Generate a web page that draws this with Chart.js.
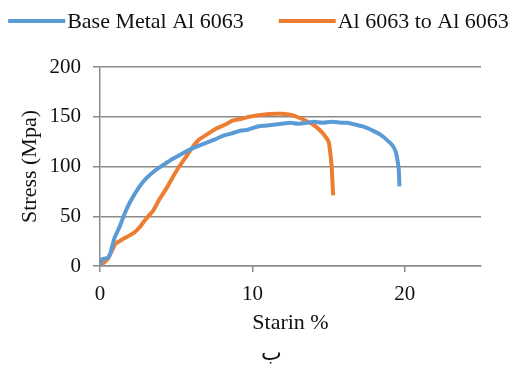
<!DOCTYPE html>
<html>
<head>
<meta charset="utf-8">
<script src="https://cdn.jsdelivr.net/npm/chart.js@4/dist/chart.umd.min.js"></script>
<style>
  html, body { margin: 0; padding: 0; background: #fff; }
  #wrap { width: 517px; height: 369px; }
</style>
</head>
<body>
<div id="wrap"><canvas id="stressChart"></canvas></div>
<script>
// Series names
const seriesNames = ['Base Metal Al 6063', 'Al 6063 to Al 6063'];

// Base metal curve (strain %, stress MPa)
const baseStrain = [0, 0.15, 0.5, 0.7, 0.95, 1.3, 1.6, 2.0, 2.6, 3.1, 3.7, 4.3, 4.8, 5.4, 5.9, 6.5, 7.0, 7.5, 8.1, 8.6, 9.2, 9.7, 10.3, 10.8, 11.4, 11.9, 12.5, 13.0, 13.6, 14.0, 14.6, 15.2, 15.8, 16.2, 16.8, 17.3, 17.9, 18.4, 18.8, 19.2, 19.4, 19.5, 19.6, 19.65];
const baseStress = [0, 7, 8, 14, 28, 40, 52, 65, 80, 89, 97, 103, 108, 113, 117, 121, 124, 127, 131, 133, 136, 137, 140, 141, 142, 143, 144, 143, 144, 145, 144, 145, 144, 144, 142, 140, 136, 132, 127, 121, 115, 108, 98, 80];

// Welded joint curve (strain %, stress MPa)
const weldStrain = [0, 0.5, 0.8, 1.0, 1.5, 2.2, 2.6, 3.0, 3.5, 3.9, 4.4, 4.8, 5.2, 5.7, 6.1, 6.5, 7.1, 7.6, 8.2, 8.7, 9.3, 9.8, 10.4, 10.9, 11.6, 12.0, 12.5, 12.9, 13.5, 14.0, 14.4, 14.7, 15.0, 15.1, 15.2, 15.25, 15.3];
const weldStress = [0, 7, 16, 22, 27, 33, 39, 47, 56, 67, 79, 90, 100, 111, 120, 127, 133, 138, 142, 146, 148, 150, 151.5, 152.5, 153, 153, 152, 150, 146, 142, 137, 132, 125, 115, 100, 85, 71];

// Axis ticks
const xTickValues = [0, 10, 20];
const yTickValues = [0, 50, 100, 150, 200];

const captionText = 'ب';

const serif = "'Liberation Serif', 'Times New Roman', serif";
const gridGray = '#8a8a8a';
const textColor = '#111';

function toPoints(xs, ys) {
    return xs.map((x, i) => ({ x: x, y: ys[i] }));
}

// Legend in the old office style: long line sample right next to the text
const lineLegend = {
    id: 'lineLegend',
    afterDraw(chart) {
        const c = chart.ctx;
        const sample = 57, gap = 2, between = 35, y = 21;
        c.save();
        c.font = '22px ' + serif;
        c.textBaseline = 'middle';
        const items = chart.data.datasets.map(ds => ({
            label: ds.label, color: ds.borderColor, w: c.measureText(ds.label).width
        }));
        let total = items.reduce((s, it) => s + sample + gap + it.w, 0) + between * (items.length - 1);
        let x = (chart.width - total) / 2;
        items.forEach(it => {
            c.strokeStyle = it.color;
            c.lineWidth = 4;
            c.lineCap = 'butt';
            c.beginPath();
            c.moveTo(x, y);
            c.lineTo(x + sample, y);
            c.stroke();
            c.fillStyle = textColor;
            c.fillText(it.label, x + sample + gap, y + 1);
            x += sample + gap + it.w + between;
        });

        // caption under the chart
        const area = chart.chartArea;
        c.font = "22px 'DejaVu Sans', sans-serif";
        c.textAlign = 'center';
        c.textBaseline = 'alphabetic';
        c.fillText(captionText, area.left + area.width * 0.45, 360);
        c.restore();
    }
};

const ctx = document.getElementById('stressChart');

new Chart(ctx, {
    type: 'scatter',
    data: {
        datasets: [{
            label: seriesNames[0],
            data: toPoints(baseStrain, baseStress),
            borderColor: '#5b9bd5',
            backgroundColor: '#5b9bd5',
            borderWidth: 4,
            showLine: true,
            pointRadius: 0,
            tension: 0.2
        }, {
            label: seriesNames[1],
            data: toPoints(weldStrain, weldStress),
            borderColor: '#ed7d31',
            backgroundColor: '#ed7d31',
            borderWidth: 4,
            showLine: true,
            pointRadius: 0,
            tension: 0.2
        }]
    },
    plugins: [lineLegend],
    options: {
        responsive: true,
        maintainAspectRatio: false,
        animation: false,
        layout: { padding: { left: 0, right: 36, top: 67, bottom: 26 } },
        plugins: {
            tooltip: { enabled: false },
            legend: { display: false }
        },
        scales: {
            x: {
                type: 'linear',
                min: 0,
                max: 25,
                afterFit: function (scale) { scale.height = 77; },
                afterBuildTicks: function (scale) {
                    scale.ticks = xTickValues.map(v => ({ value: v }));
                },
                grid: {
                    drawOnChartArea: false,
                    drawTicks: true,
                    tickLength: 6,
                    color: gridGray,
                    lineWidth: 1.5
                },
                border: { color: gridGray, width: 1.5 },
                ticks: {
                    color: textColor,
                    font: { family: serif, size: 21 },
                    padding: 10,
                    maxRotation: 0
                },
                title: {
                    display: true,
                    text: 'Starin %',
                    color: textColor,
                    font: { family: serif, size: 22 },
                    padding: { top: 0, bottom: 7 }
                }
            },
            y: {
                min: 0,
                max: 200,
                afterFit: function (scale) { scale.width = 100; },
                afterBuildTicks: function (scale) {
                    scale.ticks = yTickValues.map(v => ({ value: v }));
                },
                grid: {
                    drawOnChartArea: true,
                    drawTicks: true,
                    tickLength: 7,
                    color: gridGray,
                    lineWidth: 1.5
                },
                border: { color: gridGray, width: 1.5 },
                ticks: {
                    color: textColor,
                    font: { family: serif, size: 21 },
                    padding: 12
                },
                title: {
                    display: true,
                    text: 'Stress (Mpa)',
                    color: textColor,
                    font: { family: serif, size: 22 },
                    padding: { top: 17, bottom: 0 }
                }
            }
        }
    }
});
</script>
</body>
</html>
